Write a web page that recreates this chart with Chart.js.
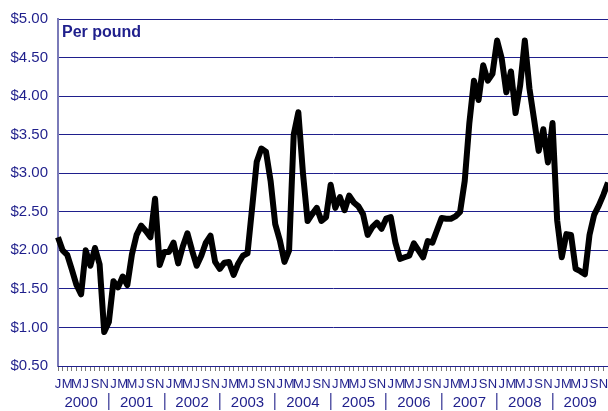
<!DOCTYPE html>
<html>
<head>
<meta charset="utf-8">
<script src="https://cdn.jsdelivr.net/npm/chart.js@4/dist/chart.umd.min.js"></script>
<style>
  html, body { margin: 0; padding: 0; background: #fff; }
  #wrap { width: 608px; height: 411px; position: relative; }
</style>
</head>
<body>
<div id="wrap"><canvas id="chart"></canvas></div>
<script>
// precio mensual por libra, ene 2000 - dic 2009
const years = ['2000', '2001', '2002', '2003', '2004', '2005', '2006', '2007', '2008', '2009'];
const monthLetters = ['J', 'F', 'M', 'A', 'M', 'J', 'J', 'A', 'S', 'O', 'N', 'D'];
const prices = [
    2.17, 2.00, 1.94, 1.75, 1.55, 1.43, 2.00, 1.80, 2.03, 1.82, 0.94, 1.07,
    1.60, 1.52, 1.66, 1.55, 1.95, 2.20, 2.32, 2.25, 2.17, 2.67, 1.81, 1.98,
    1.98, 2.10, 1.83, 2.05, 2.22, 2.00, 1.80, 1.93, 2.10, 2.19, 1.85, 1.76,
    1.84, 1.85, 1.68, 1.83, 1.93, 1.96, 2.55, 3.15, 3.32, 3.28, 2.90, 2.34,
    2.13, 1.85, 2.00, 3.50, 3.79, 3.00, 2.38, 2.47, 2.55, 2.38, 2.43, 2.85,
    2.55, 2.69, 2.52, 2.71, 2.62, 2.57, 2.47, 2.20, 2.30, 2.36, 2.28, 2.41,
    2.43, 2.10, 1.89, 1.91, 1.93, 2.09, 2.00, 1.91, 2.12, 2.10, 2.26, 2.42,
    2.41, 2.41, 2.44, 2.50, 2.90, 3.65, 4.20, 3.95, 4.40, 4.20, 4.29, 4.72,
    4.49, 4.05, 4.32, 3.78, 4.14, 4.72, 4.10, 3.70, 3.29, 3.57, 3.14, 3.65,
    2.39, 1.91, 2.21, 2.20, 1.76, 1.73, 1.69, 2.20, 2.46, 2.58, 2.72, 2.88
];
const unitLabel = 'Per pound';

const navy = '#1f1f8c';
const fontFam = '"Liberation Sans", Arial, sans-serif';

const labels = [];
years.forEach(y => monthLetters.forEach(m => labels.push(m + ' ' + y)));

// texto "Per pound" dentro del area
const unitPlugin = {
    id: 'unitLabel',
    afterDraw(chart) {
        const ctx = chart.ctx;
        const area = chart.chartArea;
        ctx.save();
        ctx.font = 'bold 16px ' + fontFam;
        ctx.fillStyle = navy;
        ctx.textBaseline = 'alphabetic';
        ctx.fillText(unitLabel, area.left + 4, area.top + 18);
        ctx.restore();
    }
};

// sin margen lateral extra en los ejes x
function noSidePadding(scale) {
    scale.paddingLeft = 0;
    scale.paddingRight = 0;
}

new Chart(document.getElementById('chart'), {
    type: 'line',
    data: {
        labels: labels,
        datasets: [{
            data: prices,
            borderColor: '#000',
            borderWidth: 6,
            borderJoinStyle: 'round',
            pointRadius: 0,
            tension: 0
        }]
    },
    options: {
        responsive: true,
        maintainAspectRatio: false,
        animation: false,
        layout: { padding: { top: 15, right: 0, left: 0, bottom: 0 } },
        plugins: {
            legend: { display: false },
            tooltip: { enabled: false }
        },
        scales: {
            y: {
                min: 0.5,
                max: 5,
                afterFit(scale) { scale.width = 58; },
                ticks: {
                    stepSize: 0.5,
                    padding: 10,
                    color: navy,
                    font: { family: fontFam, size: 15 },
                    callback: v => '$' + Number(v).toFixed(2)
                },
                grid: { color: navy, lineWidth: 1, drawTicks: false },
                border: { color: '#7a7ab8', width: 2 }
            },
            x: {
                afterFit(scale) { scale.height = 27; noSidePadding(scale); },
                ticks: {
                    autoSkip: false,
                    maxRotation: 0,
                    minRotation: 0,
                    padding: 6,
                    color: navy,
                    font: { family: fontFam, size: 13 },
                    callback: (v, i) => (i % 2 === 0 ? monthLetters[i % 12] : '')
                },
                grid: { drawOnChartArea: false, tickLength: 5, color: '#777' },
                border: { color: navy, width: 1 }
            },
            years: {
                position: 'bottom',
                type: 'category',
                afterFit(scale) { scale.height = 18; noSidePadding(scale); },
                ticks: {
                    autoSkip: false,
                    maxRotation: 0,
                    minRotation: 0,
                    padding: -16,
                    color: navy,
                    font: { family: fontFam, size: 15 },
                    callback: (v, i) => (i % 12 === 5 ? years[Math.floor(i / 12)] : '')
                },
                grid: {
                    drawOnChartArea: false,
                    tickLength: 17,
                    lineWidth: 1.5,
                    color: c => (c.index % 12 === 11 && c.index < 119 ? '#5a5aa8' : 'rgba(0,0,0,0)')
                },
                border: { display: false }
            }
        }
    },
    plugins: [unitPlugin]
});
</script>
</body>
</html>
